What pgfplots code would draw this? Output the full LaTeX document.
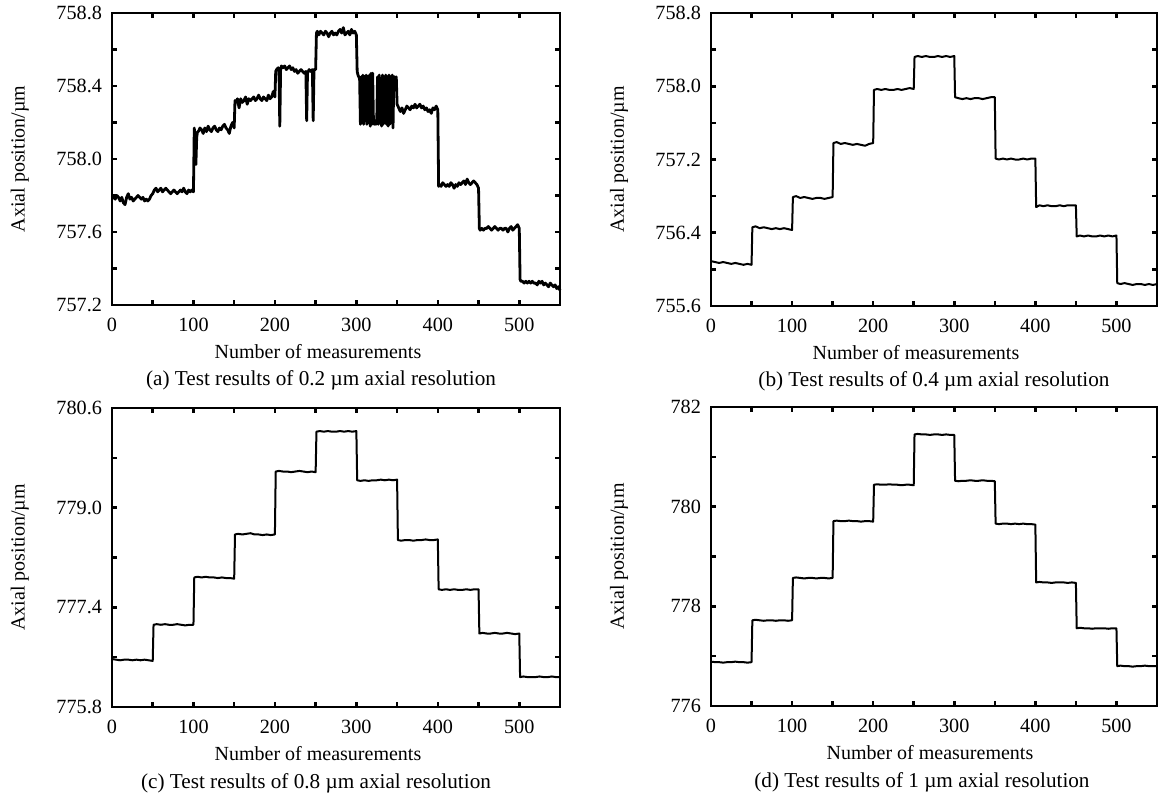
\documentclass[border=0pt]{standalone}
\usepackage{fontspec}
\setmainfont{Liberation Serif}
\usepackage{pgfplots}
\pgfplotsset{compat=1.18}
\pgfplotsset{
 myax/.style={
  scale only axis, anchor=south west,
  xmin=0,xmax=550,
  axis line style={line width=1.3pt},
  every tick/.style={line width=1.3pt, black},
  major tick length=2.6pt, minor tick length=2.6pt,
  tick align=inside,
  xtick={0,100,200,300,400,500}, minor xtick={50,150,250,350,450},
  scaled ticks=false,
  /pgf/number format/assume math mode=true,
  tick label style={font=\fontsize{10.1}{12}\selectfont},
  label style={font=\fontsize{10.6}{12}\selectfont},
  xticklabel style={yshift=-3pt},
  yticklabel style={xshift=-1.5pt},
  xlabel={Number of measurements},
  ylabel={Axial position/µm},
  every axis x label/.style={at={(axis description cs:0.5,0)}, anchor=center, yshift=-23.5pt, xshift=-9pt},
  every axis y label/.style={at={(axis description cs:-0.206,0.5)}, rotate=90, anchor=center},
  clip=false,
 },
 fixed1/.style={yticklabel style={/pgf/number format/.cd, fixed, fixed zerofill, precision=1}},
}
\newcommand{\capfont}{\fontsize{10.6}{12}\selectfont}
\begin{document}
\begin{tikzpicture}
\useasboundingbox (0,0) rectangle (581.5pt,400pt);
% (a)
\begin{axis}[myax, fixed1, at={(56pt,247.5pt)}, width=224pt, height=146pt,
  ymin=757.2, ymax=758.8, ytick={757.2,757.6,758.0,758.4,758.8}, minor ytick={757.4,757.8,758.2,758.6}]
\addplot[black, line width=1.4pt, line join=round] coordinates {
(0,757.80)(2,757.79)(4,757.78)(6,757.80)(8,757.79)(10,757.77)(12,757.79)(14,757.76)(16,757.75)(18,757.79)(20,757.81)(22,757.78)(24,757.79)(26,757.77)(28,757.78)(30,757.79)(32,757.80)(34,757.79)(36,757.78)(38,757.79)(40,757.77)(42,757.78)(44,757.77)(46,757.78)(48,757.80)(50,757.81)
(52,757.83)(54,757.84)(56,757.82)(58,757.83)(60,757.84)(62,757.82)(64,757.83)(66,757.84)(68,757.83)(70,757.82)(72,757.81)(74,757.82)(76,757.83)(78,757.82)(80,757.81)(82,757.82)(84,757.83)(86,757.82)(88,757.84)(90,757.82)(92,757.81)(94,757.83)(96,757.82)(98,757.83)(100,757.82)
(101,758.17)(102,758.10)(103,757.97)(104,758.12)(105,758.15)(106,758.15)(108,758.17)(110,758.16)(112,758.14)(114,758.17)(116,758.15)(118,758.18)(120,758.16)(122,758.15)(124,758.17)(126,758.18)(128,758.16)(130,758.15)(132,758.17)(134,758.16)(136,758.18)(138,758.19)(140,758.17)(142,758.16)(144,758.14)(146,758.18)(148,758.20)(150,758.17)
(151,758.32)(152,758.31)(154,758.33)(156,758.28)(158,758.33)(160,758.31)(162,758.32)(164,758.34)(166,758.30)(168,758.33)(170,758.32)(172,758.33)(174,758.34)(176,758.32)(178,758.33)(180,758.35)(182,758.33)(184,758.32)(186,758.34)(188,758.33)(190,758.32)(192,758.35)(194,758.33)(196,758.34)(198,758.37)(200,758.34)
(201,758.48)(202,758.49)(204,758.50)(205,758.49)(206,758.18)(207,758.49)(208,758.51)(210,758.50)(212,758.51)(214,758.49)(216,758.50)(218,758.51)(220,758.49)(222,758.50)(224,758.48)(226,758.49)(228,758.47)(230,758.48)(232,758.49)(234,758.48)(236,758.47)(238,758.48)(239,758.21)(240,758.47)(242,758.49)(244,758.48)(246,758.49)(247,758.21)(248,758.49)(250,758.49)
(251,758.69)(252,758.70)(254,758.68)(256,758.70)(258,758.69)(260,758.68)(262,758.70)(264,758.69)(266,758.67)(268,758.69)(270,758.70)(272,758.68)(274,758.69)(276,758.68)(278,758.70)(280,758.71)(282,758.69)(284,758.72)(286,758.68)(288,758.69)(290,758.70)(292,758.68)(294,758.71)(296,758.69)(298,758.70)(300,758.68)
(301,758.48)(302,758.46)(303,758.45)(304,758.44)(305,758.19)(306,758.45)(307,758.20)(308,758.46)(309,758.19)(310,758.44)(311,758.21)(312,758.46)(313,758.19)(314,758.45)(315,758.20)(316,758.46)(317,758.18)(318,758.47)(319,758.19)(320,758.47)(321,758.20)(322,758.19)(323,758.21)(324,758.19)(325,758.20)(326,758.45)(327,758.19)(328,758.46)(329,758.20)(330,758.44)(331,758.18)(332,758.46)(333,758.19)(334,758.45)(335,758.20)(336,758.46)(337,758.19)(338,758.45)(339,758.18)(340,758.46)(341,758.19)(342,758.45)(343,758.20)(344,758.46)(345,758.17)(346,758.45)(347,758.45)(348,758.44)(349,758.45)
(350,758.30)(351,758.29)(352,758.28)(354,758.26)(356,758.28)(358,758.25)(360,758.27)(362,758.29)(364,758.28)(366,758.27)(368,758.29)(370,758.28)(372,758.30)(374,758.28)(376,758.29)(378,758.30)(380,758.28)(382,758.29)(384,758.27)(386,758.28)(388,758.26)(390,758.27)(392,758.25)(394,758.28)(396,758.27)(398,758.29)(400,758.27)
(401,757.85)(402,757.86)(404,757.85)(406,757.87)(408,757.86)(410,757.85)(412,757.86)(414,757.85)(416,757.87)(418,757.86)(420,757.84)(422,757.86)(424,757.85)(426,757.87)(428,757.86)(430,757.87)(432,757.88)(434,757.86)(436,757.89)(438,757.87)(440,757.86)(442,757.87)(444,757.88)(446,757.87)(448,757.86)(450,757.84)
(451,757.62)(452,757.61)(454,757.62)(456,757.61)(458,757.62)(460,757.62)(462,757.63)(464,757.62)(466,757.61)(468,757.62)(470,757.63)(472,757.62)(474,757.61)(476,757.62)(478,757.62)(480,757.61)(482,757.62)(484,757.62)(486,757.60)(488,757.62)(490,757.63)(492,757.61)(494,757.62)(496,757.63)(498,757.64)(500,757.62)
(501,757.34)(502,757.33)(504,757.33)(506,757.32)(508,757.33)(510,757.32)(512,757.33)(514,757.32)(516,757.33)(518,757.32)(520,757.32)(522,757.31)(524,757.33)(526,757.32)(528,757.33)(530,757.31)(532,757.32)(534,757.31)(536,757.30)(538,757.32)(540,757.31)(542,757.30)(544,757.31)(546,757.29)(548,757.30)(550,757.28)
};
\node[font=\capfont] at (rel axis cs:0.5,0) [yshift=-37.5pt, xshift=-7.5pt] {(a) Test results of 0.2 µm axial resolution};
\end{axis}
% (b)
\begin{axis}[myax, fixed1, at={(355.5pt,247pt)}, width=223pt, height=146.5pt,
  ymin=755.6, ymax=758.8, ytick={755.6,756.4,757.2,758.0,758.8}, minor ytick={756.0,756.8,757.6,758.4}]
\addplot[black, line width=1.0pt, line join=round] coordinates {
(0,756.09)(5,756.08)(10,756.07)(15,756.08)(20,756.07)(25,756.06)(30,756.07)(35,756.06)(40,756.05)(45,756.06)(50,756.05)
(51,756.46)(55,756.47)(60,756.45)(65,756.46)(70,756.45)(75,756.44)(80,756.45)(85,756.44)(90,756.45)(95,756.44)(100,756.43)
(101,756.79)(105,756.80)(110,756.78)(115,756.79)(120,756.78)(125,756.77)(130,756.78)(135,756.78)(140,756.77)(145,756.78)(150,756.79)
(151,757.38)(155,757.39)(160,757.37)(165,757.38)(170,757.37)(175,757.36)(180,757.37)(185,757.36)(190,757.35)(195,757.37)(200,757.38)
(201,757.96)(205,757.97)(210,757.96)(215,757.97)(220,757.96)(225,757.96)(230,757.97)(235,757.96)(240,757.97)(245,757.98)(250,757.97)
(251,758.32)(255,758.33)(260,758.32)(265,758.33)(270,758.32)(275,758.32)(280,758.33)(285,758.32)(290,758.33)(295,758.32)(300,758.33)
(301,757.88)(305,757.87)(310,757.86)(315,757.87)(320,757.86)(325,757.87)(330,757.87)(335,757.86)(340,757.87)(345,757.88)(350,757.88)
(351,757.21)(355,757.20)(360,757.21)(365,757.20)(370,757.21)(375,757.20)(380,757.20)(385,757.21)(390,757.20)(395,757.21)(400,757.21)
(401,756.68)(405,756.70)(410,756.69)(415,756.70)(420,756.69)(425,756.69)(430,756.70)(435,756.69)(440,756.70)(445,756.70)(450,756.70)
(451,756.36)(455,756.37)(460,756.36)(465,756.37)(470,756.36)(475,756.36)(480,756.37)(485,756.36)(490,756.37)(495,756.36)(500,756.37)
(501,755.85)(505,755.84)(510,755.85)(515,755.84)(520,755.83)(525,755.84)(530,755.84)(535,755.83)(540,755.84)(545,755.83)(550,755.84)
};
\node[font=\capfont] at (rel axis cs:0.5,0) [yshift=-37.5pt] {(b) Test results of 0.4 µm axial resolution};
\end{axis}
% (c)
\begin{axis}[myax, fixed1, at={(56pt,46.5pt)}, width=224pt, height=149.5pt,
  ymin=775.8, ymax=780.6, ytick={775.8,777.4,779.0,780.6}, minor ytick={776.6,778.2,779.8}]
\addplot[black, line width=1.0pt, line join=round] coordinates {
(0,776.57)(5,776.56)(10,776.55)(15,776.56)(20,776.56)(25,776.55)(30,776.56)(35,776.55)(40,776.56)(45,776.55)(50,776.54)
(51,777.12)(55,777.13)(60,777.12)(65,777.13)(70,777.12)(75,777.12)(80,777.13)(85,777.12)(90,777.11)(95,777.12)(100,777.12)
(101,777.88)(105,777.89)(110,777.88)(115,777.89)(120,777.88)(125,777.88)(130,777.87)(135,777.88)(140,777.87)(145,777.87)(150,777.86)
(151,778.57)(155,778.58)(160,778.57)(165,778.58)(170,778.59)(175,778.57)(180,778.57)(185,778.56)(190,778.57)(195,778.56)(200,778.57)
(201,779.58)(205,779.59)(210,779.58)(215,779.58)(220,779.57)(225,779.58)(230,779.59)(235,779.58)(240,779.57)(245,779.58)(250,779.57)
(251,780.22)(255,780.23)(260,780.22)(265,780.23)(270,780.22)(275,780.22)(280,780.23)(285,780.22)(290,780.23)(295,780.22)(300,780.23)
(301,779.44)(305,779.43)(310,779.44)(315,779.43)(320,779.44)(325,779.44)(330,779.45)(335,779.44)(340,779.45)(345,779.44)(350,779.45)
(351,778.48)(355,778.47)(360,778.48)(365,778.48)(370,778.47)(375,778.48)(380,778.48)(385,778.49)(390,778.48)(395,778.48)(400,778.49)
(401,777.69)(405,777.68)(410,777.69)(415,777.68)(420,777.69)(425,777.68)(430,777.68)(435,777.69)(440,777.68)(445,777.69)(450,777.69)
(451,776.98)(455,776.99)(460,776.98)(465,776.98)(470,776.99)(475,776.98)(480,776.98)(485,776.99)(490,776.98)(495,776.97)(500,776.98)
(501,776.28)(505,776.29)(510,776.28)(515,776.28)(520,776.28)(525,776.29)(530,776.28)(535,776.28)(540,776.29)(545,776.28)(550,776.28)
};
\node[font=\capfont] at (rel axis cs:0.5,0) [yshift=-38pt, xshift=-10pt] {(c) Test results of 0.8 µm axial resolution};
\end{axis}
% (d)
\begin{axis}[myax, at={(355.5pt,47pt)}, width=223pt, height=149.5pt,
  ymin=776, ymax=782, ytick={776,778,780,782}, minor ytick={777,779,781},
  every axis x label/.append style={xshift=7pt}]
\addplot[black, line width=1.0pt, line join=round] coordinates {
(0,776.89)(5,776.88)(10,776.88)(15,776.87)(20,776.88)(25,776.88)(30,776.89)(35,776.88)(40,776.88)(45,776.87)(50,776.88)
(51,777.72)(55,777.73)(60,777.72)(65,777.71)(70,777.72)(75,777.72)(80,777.71)(85,777.72)(90,777.72)(95,777.71)(100,777.72)
(101,778.57)(105,778.58)(110,778.57)(115,778.56)(120,778.57)(125,778.57)(130,778.56)(135,778.57)(140,778.57)(145,778.56)(150,778.57)
(151,779.71)(155,779.72)(160,779.71)(165,779.71)(170,779.72)(175,779.71)(180,779.71)(185,779.70)(190,779.71)(195,779.71)(200,779.70)
(201,780.44)(205,780.45)(210,780.44)(215,780.44)(220,780.45)(225,780.44)(230,780.44)(235,780.43)(240,780.44)(245,780.44)(250,780.43)
(251,781.45)(255,781.46)(260,781.45)(265,781.45)(270,781.44)(275,781.45)(280,781.45)(285,781.44)(290,781.45)(295,781.44)(300,781.44)
(301,780.52)(305,780.51)(310,780.52)(315,780.52)(320,780.53)(325,780.52)(330,780.52)(335,780.53)(340,780.52)(345,780.52)(350,780.51)
(351,779.66)(355,779.65)(360,779.66)(365,779.66)(370,779.65)(375,779.66)(380,779.65)(385,779.66)(390,779.65)(395,779.65)(400,779.64)
(401,778.48)(405,778.49)(410,778.48)(415,778.48)(420,778.47)(425,778.48)(430,778.48)(435,778.48)(440,778.47)(445,778.48)(450,778.47)
(451,777.56)(455,777.57)(460,777.56)(465,777.56)(470,777.55)(475,777.56)(480,777.56)(485,777.56)(490,777.55)(495,777.56)(500,777.56)
(501,776.80)(505,776.81)(510,776.80)(515,776.80)(520,776.79)(525,776.80)(530,776.80)(535,776.81)(540,776.80)(545,776.80)(550,776.80)
};
\node[font=\capfont] at (rel axis cs:0.5,0) [yshift=-38pt, xshift=-6pt] {(d) Test results of 1 µm axial resolution};
\end{axis}
\end{tikzpicture}
\end{document}
